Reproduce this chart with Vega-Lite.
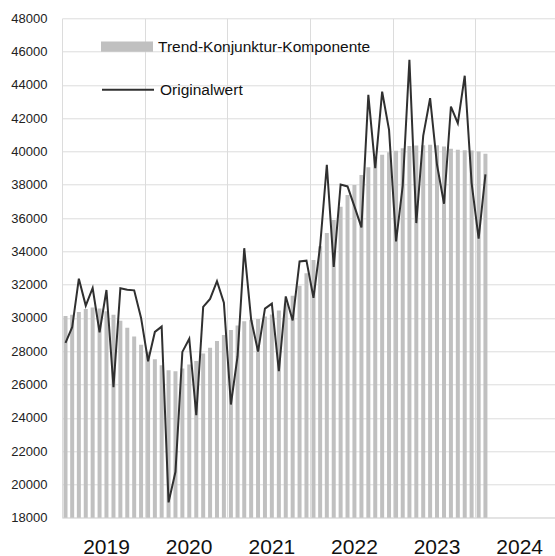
{
  "$schema": "https://vega.github.io/schema/vega-lite/v6.json",
  "width": 493,
  "height": 499.4,
  "autosize": "none",
  "padding": {"left": 62, "top": 18.3, "right": 0, "bottom": 38.3},
  "background": "white",
  "config": {
    "view": {"stroke": null},
    "font": "Liberation Sans",
    "axisY": {
      "title": null,
      "values": [18000, 20000, 22000, 24000, 26000, 28000, 30000, 32000, 34000, 36000, 38000, 40000, 42000, 44000, 46000, 48000],
      "format": "d",
      "labelOverlap": false,
      "grid": true,
      "gridColor": "#dcdcdc",
      "domain": false,
      "ticks": false,
      "tickSize": 0,
      "labelPadding": 15,
      "labelFont": "Liberation Sans",
      "labelFontSize": 13,
      "labelColor": "#222222"
    }
  },
  "data": {
    "format": {"parse": {"m": "date:'%Y-%m'"}},
    "values": [
      {"m": "2019-01", "trend": 30120, "orig": 28500},
      {"m": "2019-02", "trend": 30190, "orig": 29440},
      {"m": "2019-03", "trend": 30350, "orig": 32360},
      {"m": "2019-04", "trend": 30530, "orig": 30740},
      {"m": "2019-05", "trend": 30630, "orig": 31800},
      {"m": "2019-06", "trend": 30560, "orig": 29140},
      {"m": "2019-07", "trend": 30400, "orig": 31680},
      {"m": "2019-08", "trend": 30190, "orig": 25840},
      {"m": "2019-09", "trend": 29830, "orig": 31780},
      {"m": "2019-10", "trend": 29410, "orig": 31700},
      {"m": "2019-11", "trend": 28890, "orig": 31660},
      {"m": "2019-12", "trend": 28390, "orig": 30000},
      {"m": "2020-01", "trend": 27950, "orig": 27400},
      {"m": "2020-02", "trend": 27520, "orig": 29160},
      {"m": "2020-03", "trend": 27160, "orig": 29480},
      {"m": "2020-04", "trend": 26860, "orig": 18920},
      {"m": "2020-05", "trend": 26800, "orig": 20760},
      {"m": "2020-06", "trend": 26960, "orig": 27960},
      {"m": "2020-07", "trend": 27200, "orig": 28750},
      {"m": "2020-08", "trend": 27420, "orig": 24160},
      {"m": "2020-09", "trend": 27860, "orig": 30660},
      {"m": "2020-10", "trend": 28210, "orig": 31140},
      {"m": "2020-11", "trend": 28620, "orig": 32210},
      {"m": "2020-12", "trend": 28980, "orig": 30920},
      {"m": "2021-01", "trend": 29270, "orig": 24800},
      {"m": "2021-02", "trend": 29550, "orig": 27700},
      {"m": "2021-03", "trend": 29800, "orig": 34190},
      {"m": "2021-04", "trend": 29890, "orig": 29900},
      {"m": "2021-05", "trend": 29940, "orig": 27980},
      {"m": "2021-06", "trend": 30090, "orig": 30560},
      {"m": "2021-07", "trend": 30200, "orig": 30860},
      {"m": "2021-08", "trend": 30440, "orig": 26800},
      {"m": "2021-09", "trend": 30860, "orig": 31290},
      {"m": "2021-10", "trend": 31330, "orig": 29850},
      {"m": "2021-11", "trend": 31940, "orig": 33390},
      {"m": "2021-12", "trend": 32690, "orig": 33440},
      {"m": "2022-01", "trend": 33480, "orig": 31210},
      {"m": "2022-02", "trend": 34300, "orig": 34330},
      {"m": "2022-03", "trend": 35110, "orig": 39200},
      {"m": "2022-04", "trend": 35880, "orig": 33070},
      {"m": "2022-05", "trend": 36680, "orig": 38020},
      {"m": "2022-06", "trend": 37380, "orig": 37900},
      {"m": "2022-07", "trend": 37980, "orig": 36700},
      {"m": "2022-08", "trend": 38590, "orig": 35440},
      {"m": "2022-09", "trend": 39050, "orig": 43400},
      {"m": "2022-10", "trend": 39650, "orig": 39000},
      {"m": "2022-11", "trend": 39800, "orig": 43590},
      {"m": "2022-12", "trend": 39950, "orig": 41300},
      {"m": "2023-01", "trend": 40050, "orig": 34600},
      {"m": "2023-02", "trend": 40200, "orig": 37940},
      {"m": "2023-03", "trend": 40330, "orig": 45500},
      {"m": "2023-04", "trend": 40360, "orig": 35700},
      {"m": "2023-05", "trend": 40380, "orig": 40940},
      {"m": "2023-06", "trend": 40400, "orig": 43200},
      {"m": "2023-07", "trend": 40380, "orig": 39200},
      {"m": "2023-08", "trend": 40300, "orig": 36860},
      {"m": "2023-09", "trend": 40160, "orig": 42700},
      {"m": "2023-10", "trend": 40110, "orig": 41700},
      {"m": "2023-11", "trend": 40080, "orig": 44550},
      {"m": "2023-12", "trend": 40060, "orig": 38100},
      {"m": "2024-01", "trend": 40000, "orig": 34770},
      {"m": "2024-02", "trend": 39870, "orig": 38620}
    ]
  },
  "encoding": {
    "x": {
      "field": "m",
      "timeUnit": "yearmonth",
      "type": "temporal",
      "bandPosition": 0.5,
      "scale": {"domain": [{"year": 2019, "month": 1, "date": 1}, {"year": 2024, "month": 12, "date": 19}]},
      "axis": {
        "title": null,
        "values": [
          {"year": 2019, "month": 1, "date": 1},
          {"year": 2020, "month": 1, "date": 1},
          {"year": 2021, "month": 1, "date": 1},
          {"year": 2022, "month": 1, "date": 1},
          {"year": 2023, "month": 1, "date": 1},
          {"year": 2024, "month": 1, "date": 1}
        ],
        "format": "%Y",
        "labelOffset": 44,
        "labelFlush": false,
        "labelOverlap": false,
        "grid": true,
        "gridColor": "#dcdcdc",
        "gridWidth": 1,
        "ticks": false,
        "tickSize": 0,
        "domainColor": "#dcdcdc",
        "labelFont": "Liberation Sans",
        "labelFontSize": 21,
        "labelColor": "#111111",
        "labelBaseline": "alphabetic",
        "labelPadding": 35.5
      }
    }
  },
  "layer": [
    {
      "mark": {"type": "bar", "width": 4, "clip": true},
      "encoding": {
        "y": {
          "field": "trend",
          "type": "quantitative",
          "title": null,
          "scale": {"domain": [18000, 48000], "nice": false, "zero": false}
        },
        "fill": {
          "datum": "Trend-Konjunktur-Komponente",
          "type": "nominal",
          "scale": {"range": ["#c0c0c0"]},
          "legend": {
            "orient": "none",
            "legendX": 39,
            "legendY": 2.3,
            "title": null,
            "padding": 0,
            "symbolType": "M-1,-0.2H1V0.2H-1Z",
            "symbolSize": 2704,
            "symbolStrokeWidth": 0,
            "labelFont": "Liberation Sans",
            "labelFontSize": 15.5,
            "labelLimit": 0,
            "labelColor": "#111111",
            "labelOffset": 5
          }
        }
      }
    },
    {
      "mark": {"type": "line", "strokeWidth": 2},
      "encoding": {
        "y": {
          "field": "orig",
          "type": "quantitative",
          "title": null,
          "scale": {"domain": [18000, 48000], "nice": false, "zero": false}
        },
        "stroke": {
          "datum": "Originalwert",
          "type": "nominal",
          "scale": {"range": ["#303030"]},
          "legend": {
            "orient": "none",
            "legendX": 39,
            "legendY": 44.5,
            "title": null,
            "padding": 0,
            "symbolType": "stroke",
            "symbolSize": 2704,
            "symbolStrokeWidth": 2,
            "labelFont": "Liberation Sans",
            "labelFontSize": 15.5,
            "labelLimit": 0,
            "labelColor": "#111111",
            "labelOffset": 5
          }
        }
      }
    }
  ]
}
